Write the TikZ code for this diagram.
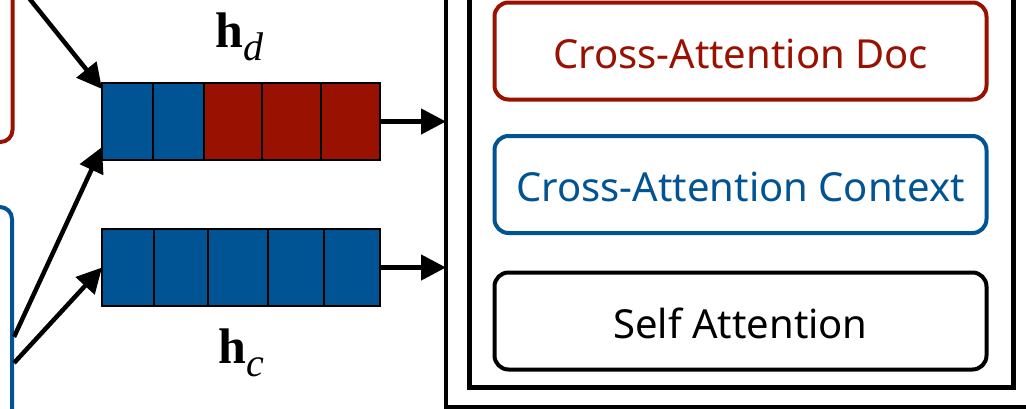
\documentclass[tikz,border=0pt]{standalone}
\usepackage{fontspec}
\setmainfont{Noto Sans}
\newfontfamily\timesf{Liberation Serif}
\usetikzlibrary{arrows.meta,calc}
\definecolor{docred}{RGB}{153,17,0}
\definecolor{ctxblue}{RGB}{0,84,147}
\begin{document}
\begin{tikzpicture}[x=1pt,y=-1pt,
  arr/.style={line width=4.5pt,-{Triangle[length=25pt,width=25pt]}},
  cell/.style={draw=black,line width=1.8pt,inner sep=0pt,outer sep=0pt,anchor=north west,minimum height=77pt},
  bar/.style={draw=black,line width=2pt,inner sep=0pt,outer sep=0pt,anchor=north west,minimum width=278pt,minimum height=77pt},
  srcbox/.style={line width=4pt,rounded corners=12pt,inner sep=0pt,outer sep=0pt,minimum width=200pt,minimum height=300pt},
  frame/.style={draw=black,inner sep=0pt,outer sep=0pt,anchor=south west},
  attbox/.style={line width=4pt,rounded corners=14pt,inner sep=0pt,outer sep=0pt,minimum width=492pt,minimum height=97pt,text height=34pt,text depth=0pt,font=\fontsize{40}{40}\selectfont},
  hlabel/.style={inner sep=0pt,anchor=base west,font=\timesf}
]
\clip (0,0) rectangle (1026,408);
\fill[white] (0,0) rectangle (1026,408);

% source boxes (partly outside)
\node[srcbox,draw=docred,anchor=south east] (docsrc) at (12.5,142) {};
\node[srcbox,draw=ctxblue,anchor=north east] (ctxsrc) at (12,207) {};

% h_d bar
\node[cell,fill=ctxblue,minimum width=51pt] (d1) at (102,83) {};
\node[cell,fill=ctxblue,minimum width=51pt] (d2) at (153,83) {};
\node[cell,fill=docred,minimum width=58pt] (d3) at (204,83) {};
\node[cell,fill=docred,minimum width=59pt] (d4) at (262,83) {};
\node[cell,fill=docred,minimum width=59pt] (d5) at (321,83) {};
\node[bar] (hd) at (102,83) {};

% h_c bar
\node[cell,fill=ctxblue,minimum width=52pt] (c1) at (102,229) {};
\node[cell,fill=ctxblue,minimum width=54pt] (c2) at (154,229) {};
\node[cell,fill=ctxblue,minimum width=60pt] (c3) at (208,229) {};
\node[cell,fill=ctxblue,minimum width=56pt] (c4) at (268,229) {};
\node[cell,fill=ctxblue,minimum width=56pt] (c5) at (324,229) {};
\node[bar] (hc) at (102,229) {};

% labels
\node[hlabel] (hdlab) at (215,47) {\fontsize{50}{50}\selectfont\textbf{h}\raisebox{-13pt}{\fontsize{40}{40}\selectfont\textit{d}}};
\node[hlabel] (hclab) at (218,363) {\fontsize{50}{50}\selectfont\textbf{h}\raisebox{-13pt}{\fontsize{40}{40}\selectfont\textit{c}}};

% decoder frames
\node[frame,line width=4pt,minimum width=620pt,minimum height=460pt] (outer) at (446,407) {};
\node[frame,line width=5pt,minimum width=544pt,minimum height=440pt] (inner) at (469.5,387) {};

% attention blocks
\node[attbox,draw=docred,text=docred] (cad) at (740.5,51) {Cross-Attention Doc};
\node[attbox,draw=ctxblue,text=ctxblue] (cac) at (740.5,184.5) {Cross-Attention Context};
\node[attbox,draw=black,text=black] (sa) at (740.5,321) {Self Attention};

% connectors
\coordinate (a1s) at ($(docsrc.south east)+(2,-162)$);
\draw[arr] (a1s) -- ($(hd.north west)+(0,6)$);
\coordinate (a2s) at ($(ctxsrc.north east)+(2,130)$);
\draw[arr] (a2s) -- ($(hd.south west)+(0,-13)$);
\coordinate (a3s) at ($(ctxsrc.north east)+(2,156)$);
\draw[arr] (a3s) -- (hc.west);
\draw[arr] (hd.east) -- (hd.east -| outer.west);
\draw[arr] (hc.east) -- (hc.east -| outer.west);
\end{tikzpicture}
\end{document}
